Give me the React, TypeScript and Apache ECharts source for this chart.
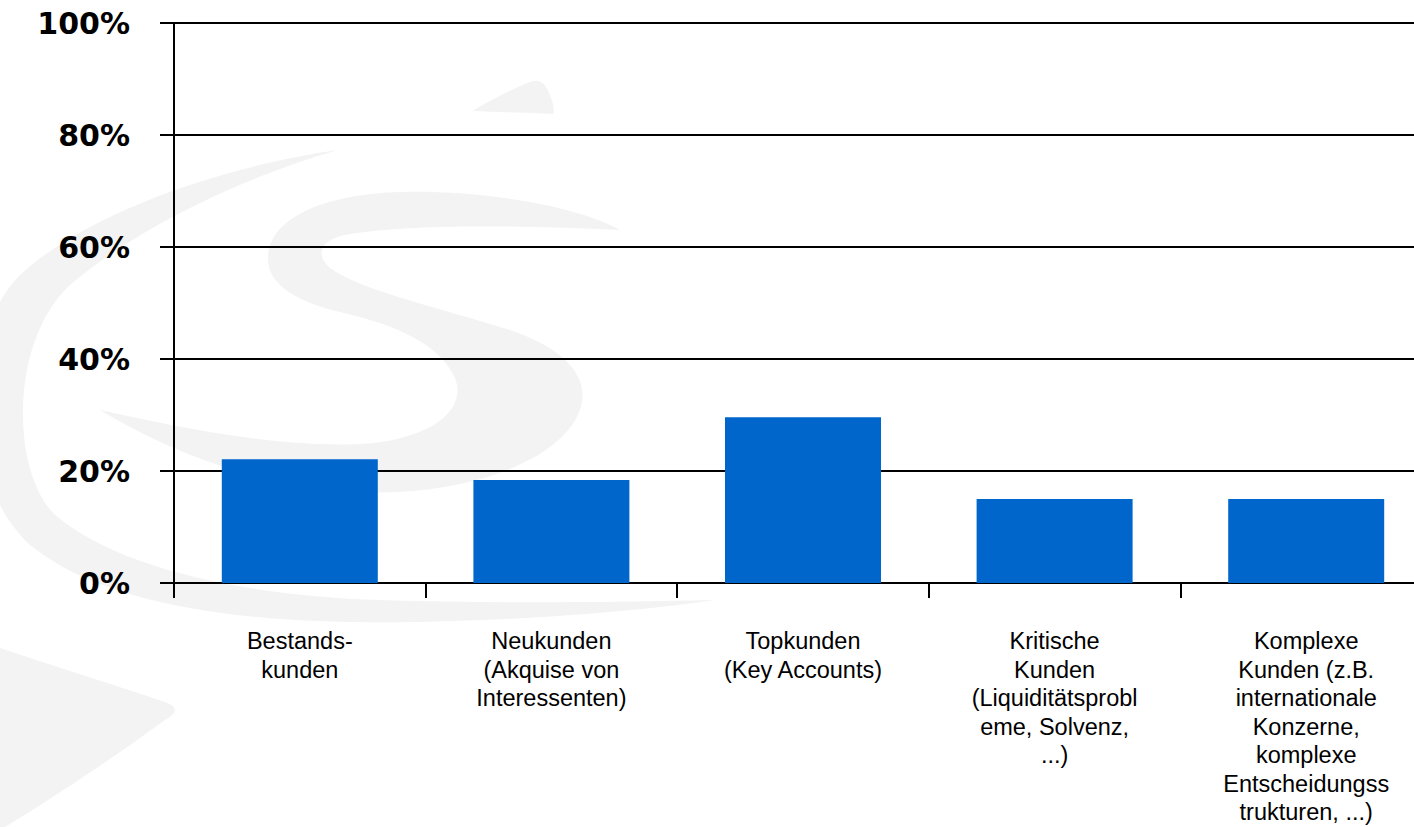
import React, { useEffect, useRef } from "react";
import * as echarts from "echarts";

const categories = [
  "Bestands-\nkunden",
  "Neukunden\n(Akquise von\nInteressenten)",
  "Topkunden\n(Key Accounts)",
  "Kritische\nKunden\n(Liquiditätsprobl\neme, Solvenz,\n...)",
  "Komplexe\nKunden (z.B.\ninternationale\nKonzerne,\nkomplexe\nEntscheidungss\ntrukturen, ...)",
];
const values = [22.1, 18.4, 29.6, 15.0, 15.0];
const yMin = 0;
const yMax = 100;
const yStep = 20;

const S_PATH =
  "M620,230 C575,205 480,190 400,192 C330,194 272,215 268,255 C265,285 300,303 340,312 C400,326 440,345 455,378 C468,410 430,440 360,444 C280,448 180,428 100,410 C170,452 260,488 360,492 C450,496 540,470 572,425 C600,385 570,350 510,330 C440,308 360,290 330,268 C315,255 320,240 345,235 C400,224 520,225 620,230 Z";
const C_PATH =
  "M338,150 C230,165 90,210 20,275 C-40,335 -40,480 30,545 C110,610 260,625 420,622 C560,619 660,608 715,600 C620,602 500,604 380,600 C250,596 120,570 55,515 C10,470 10,340 70,285 C140,225 250,175 338,150 Z";
const W_PATH =
  "M0,648 C60,668 130,690 165,702 C178,707 178,712 165,720 C110,760 50,800 0,830 Z";
const T_PATH =
  "M473,111 C490,100 515,88 530,82 C540,78 546,84 550,95 C553,103 555,110 553,114 C530,113 495,112 473,111 Z";

let registered = false;
function registerShapes() {
  if (registered) return;
  registered = true;
  echarts.graphic.registerShape("wmS", echarts.graphic.extendPath(S_PATH, {}));
  echarts.graphic.registerShape("wmC", echarts.graphic.extendPath(C_PATH, {}));
  echarts.graphic.registerShape("wmW", echarts.graphic.extendPath(W_PATH, {}));
  echarts.graphic.registerShape("wmT", echarts.graphic.extendPath(T_PATH, {}));
}

export default function App() {
  const ref = useRef<HTMLDivElement>(null);
  useEffect(() => {
    if (!ref.current) return;
    registerShapes();
    const chart = echarts.init(ref.current, null, { renderer: "svg" });
    const wm = (type: string) => ({
      type,
      x: 0,
      y: 0,
      z: -10,
      silent: true,
      style: { fill: "#f3f3f3" },
    });
    chart.setOption({
      animation: false,
      backgroundColor: "#ffffff",
      graphic: [wm("wmC"), wm("wmS"), wm("wmW"), wm("wmT")],
      grid: {
        left: 174,
        top: 23,
        width: 1258,
        bottom: 244,
        containLabel: false,
        outerBoundsMode: "none",
      },
      xAxis: {
        type: "category",
        data: categories,
        axisLine: { show: true, lineStyle: { color: "#000", width: 2 } },
        axisTick: { show: true, length: 15, lineStyle: { color: "#000", width: 2 } },
        axisLabel: {
          interval: 0,
          margin: 44,
          color: "#000",
          fontFamily: "Liberation Sans, Arial, sans-serif",
          fontSize: 23.5,
          lineHeight: 28.5,
          align: "center",
        },
        splitLine: { show: false },
      },
      yAxis: {
        type: "value",
        min: yMin,
        max: yMax,
        interval: yStep,
        axisLine: { show: true, lineStyle: { color: "#000", width: 2 } },
        axisTick: { show: true, length: 14, lineStyle: { color: "#000", width: 2 } },
        axisLabel: {
          formatter: "{value}%",
          margin: 44,
          color: "#000",
          fontFamily: "DejaVu Sans, sans-serif",
          fontWeight: "bold",
          fontSize: 30,
        },
        splitLine: { show: true, lineStyle: { color: "#000", width: 2 } },
      },
      series: [
        {
          type: "bar",
          data: values,
          barCategoryGap: "38%",
          itemStyle: { color: "#0066CC" },
        },
      ],
    });
    return () => chart.dispose();
  }, []);
  return (
    <div
      ref={ref}
      style={{ position: "fixed", left: 0, top: 0, width: 1414, height: 827 }}
    />
  );
}
